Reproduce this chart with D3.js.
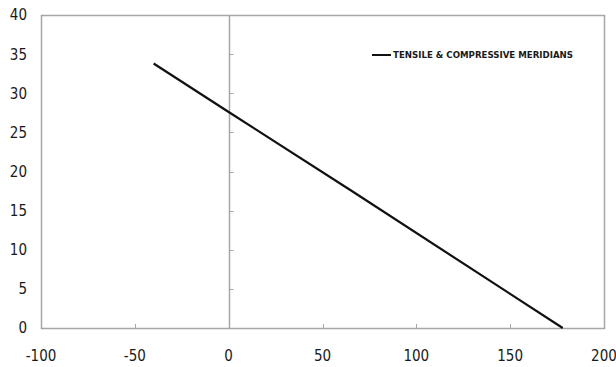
<!DOCTYPE html>
<html>
<head>
<meta charset="utf-8">
<script src="https://cdn.jsdelivr.net/npm/d3@7"></script>
<style>
  body { margin: 0; background: #fff; }
  svg text { font-family: "DejaVu Sans Condensed", "DejaVu Sans", sans-serif; font-stretch: condensed; fill: #1a1a1a; }
</style>
</head>
<body>
<svg id="chart" width="616" height="367"></svg>
<script>
// meridian line
const meridianX = [-40, 0, 65, 178];
const meridianY = [33.8, 27.6, 17.6, 0];
const xTicks = [-100, -50, 0, 50, 100, 150, 200];
const yTicks = [0, 5, 10, 15, 20, 25, 30, 35, 40];
const legendLabel = "TENSILE & COMPRESSIVE MERIDIANS";

const svg = d3.select("#chart");
const plotLeft = 41, plotRight = 604, plotTop = 15, plotBottom = 328;

const x = d3.scaleLinear().domain([-100, 200]).range([plotLeft, plotRight]);
const y = d3.scaleLinear().domain([0, 40]).range([plotBottom, plotTop]);

const axisColor = "#a6a6a6";

// plot frame
svg.append("rect")
    .attr("x", plotLeft + 0.5)
    .attr("y", plotTop + 0.5)
    .attr("width", plotRight - plotLeft)
    .attr("height", plotBottom - plotTop)
    .attr("fill", "none")
    .attr("stroke", axisColor)
    .attr("stroke-width", 1.5);

// x ticks (inside, upwards)
svg.append("g")
    .selectAll("line")
    .data(xTicks.slice(1, -1))
    .enter().append("line")
    .attr("x1", d => Math.round(x(d)) + 0.5)
    .attr("x2", d => Math.round(x(d)) + 0.5)
    .attr("y1", plotBottom)
    .attr("y2", plotBottom - 4)
    .attr("stroke", axisColor);

// vertical axis at x = 0 with ticks
const x0 = Math.round(x(0)) + 0.5;
svg.append("line")
    .attr("x1", x0).attr("x2", x0)
    .attr("y1", plotTop).attr("y2", plotBottom)
    .attr("stroke", axisColor)
    .attr("stroke-width", 1.5);

svg.append("g")
    .selectAll("line")
    .data(yTicks.slice(1, -1))
    .enter().append("line")
    .attr("x1", x0)
    .attr("x2", x0 + 4)
    .attr("y1", d => Math.round(y(d)) + 0.5)
    .attr("y2", d => Math.round(y(d)) + 0.5)
    .attr("stroke", axisColor);

// tick labels
svg.append("g")
    .selectAll("text")
    .data(yTicks)
    .enter().append("text")
    .attr("x", plotLeft - 14)
    .attr("y", d => y(d))
    .attr("dy", "0.36em")
    .attr("text-anchor", "end")
    .attr("font-size", 15)
    .text(d => d);

svg.append("g")
    .selectAll("text")
    .data(xTicks)
    .enter().append("text")
    .attr("x", d => x(d))
    .attr("y", 361)
    .attr("text-anchor", "middle")
    .attr("font-size", 15)
    .text(d => d);

// the line
const pts = meridianX.map((v, i) => [v, meridianY[i]]);
svg.append("path")
    .datum(pts)
    .attr("d", d3.line().x(d => x(d[0])).y(d => y(d[1])))
    .attr("fill", "none")
    .attr("stroke", "#111")
    .attr("stroke-width", 2.2);

// legend
const legend = svg.append("g").attr("transform", "translate(372, 55)");
legend.append("line")
    .attr("x1", 0).attr("x2", 19)
    .attr("y1", 0).attr("y2", 0)
    .attr("stroke", "#111")
    .attr("stroke-width", 2);
legend.append("text")
    .attr("x", 21)
    .attr("y", 0)
    .attr("dy", "0.36em")
    .attr("font-size", 8)
    .attr("font-weight", "bold")
    .attr("textLength", 180)
    .attr("lengthAdjust", "spacingAndGlyphs")
    .text(legendLabel);
</script>
</body>
</html>
